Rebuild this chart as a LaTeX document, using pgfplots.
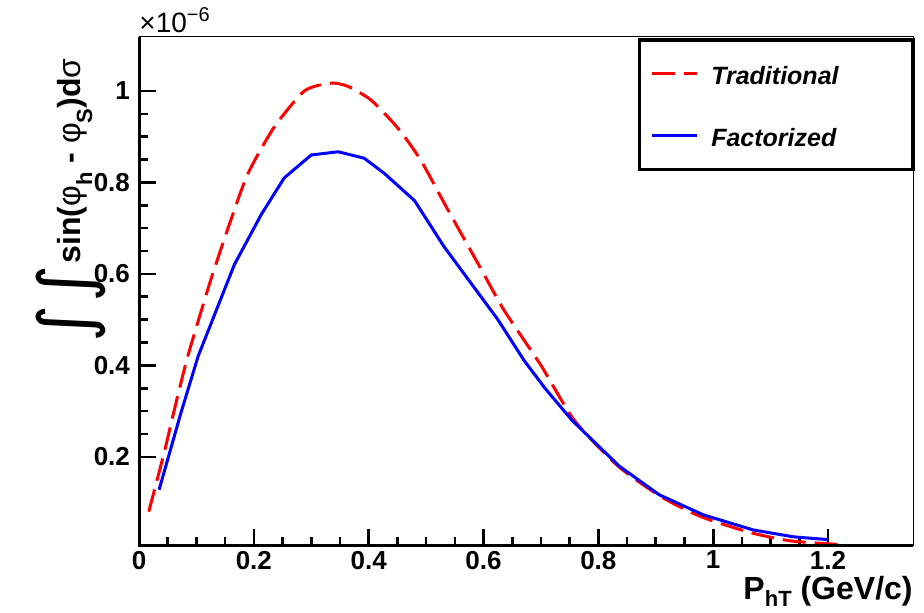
\documentclass[border=0pt]{standalone}
\usepackage{pgfplots}
\pgfplotsset{compat=1.18}
\usepackage{fontspec}
\setmainfont{Liberation Sans}
\newfontfamily\dejavu{DejaVu Sans}
\definecolor{rootred}{rgb}{1,0,0}
\definecolor{rootblue}{rgb}{0,0,1}

\pgfplotstableread{
x y
0.017 0.080
0.044 0.210
0.061 0.300
0.085 0.420
0.125 0.587
0.160 0.718
0.190 0.820
0.235 0.920
0.288 1.000
0.334 1.017
0.364 1.010
0.404 0.980
0.450 0.920
0.490 0.850
0.538 0.740
0.596 0.610
0.636 0.520
0.700 0.400
0.758 0.280
0.834 0.180
0.909 0.113
0.979 0.069
1.066 0.034
1.136 0.016
1.223 0.008
}\traditional

\pgfplotstableread{
x y
0.035 0.128
0.073 0.296
0.103 0.420
0.166 0.620
0.213 0.730
0.253 0.810
0.300 0.860
0.347 0.867
0.392 0.853
0.427 0.820
0.480 0.760
0.531 0.660
0.578 0.580
0.625 0.500
0.671 0.410
0.707 0.350
0.754 0.280
0.836 0.180
0.906 0.117
0.983 0.073
1.070 0.040
1.140 0.025
1.200 0.019
}\factorized

\begin{document}
\begin{tikzpicture}
\useasboundingbox (0,0) rectangle (462pt,306.5pt);
\begin{axis}[
  at={(69.5pt,33.5pt)}, anchor=south west,
  scale only axis, width=387pt, height=254.5pt,
  xmin=0, xmax=1.348, ymin=0.005, ymax=1.118,
  axis line style={line width=0.5pt},
  xtick={0,0.2,0.4,0.6,0.8,1,1.2},
  xticklabels={0,0.2,0.4,0.6,0.8,1,1.2},
  ytick={0.2,0.4,0.6,0.8,1},
  yticklabels={0.2,0.4,0.6,0.8,1},
  minor x tick num=3, minor y tick num=3,
  tick align=inside, xtick pos=bottom, ytick pos=left,
  major tick length=8.5pt, minor tick length=4.5pt,
  tick style={line width=1.3pt, black},
  ticklabel style={font=\fontsize{13}{15}\selectfont\bfseries},
  yticklabel style={xshift=-1pt},
  xticklabel style={yshift=1pt},
  clip=false,
  legend style={draw=none, fill=none, at={(rel axis cs:0.66,0.955)}, anchor=north west,
    inner sep=0pt, row sep=17.5pt,
    font=\fontsize{12.5}{15}\selectfont\bfseries\itshape,
    nodes={inner sep=0pt}},
  legend cell align=left,
  legend image code/.code={\draw[#1] (0pt,0pt) -- (22.5pt,0pt); \path (29pt,0pt);},
]
\draw[line width=1.6pt, fill=white] (rel axis cs:0.647,0.994) rectangle (rel axis cs:1.0,0.739);
\addplot[rootred, line width=1.5pt, smooth, tension=0.4, dash pattern=on 11.5pt off 4.5pt] table[x=x,y=y] {\traditional};
\addlegendentry{\rule[-5pt]{0pt}{17pt}Traditional}
\addplot[rootblue, line width=1.5pt] table[x=x,y=y] {\factorized};
\addlegendentry{\rule[-5pt]{0pt}{17pt}Factorized}
\draw[line width=1.5pt] (rel axis cs:0,1) -- (rel axis cs:0,0) -- (rel axis cs:1,0);
\node[anchor=base west, inner sep=0pt, yshift=2.2pt] at (rel axis cs:0,1)
  {\fontsize{14}{15}\selectfont ×10\raisebox{5.5pt}{\fontsize{10}{10}\selectfont −6}};
\node[anchor=base east, inner sep=0pt, yshift=-27pt] at (rel axis cs:1,0)
  {\fontsize{16}{19}\selectfont\bfseries P\raisebox{-3.5pt}{\fontsize{11}{12}\selectfont hT} (GeV/c)};
\end{axis}
\node[rotate=90, anchor=base east, inner sep=0pt] at (40pt,277.5pt)
  {\raisebox{-5pt}{\dejavu\fontsize{36}{36}\selectfont ∫\kern1pt∫\kern1pt}\fontsize{16}{19}\selectfont\bfseries sin({\mdseries φ}\raisebox{-6pt}{\fontsize{11}{12}\selectfont h} - {\mdseries φ}\raisebox{-6pt}{\fontsize{11}{12}\selectfont S})d{\mdseries σ}};
\end{tikzpicture}
\end{document}
